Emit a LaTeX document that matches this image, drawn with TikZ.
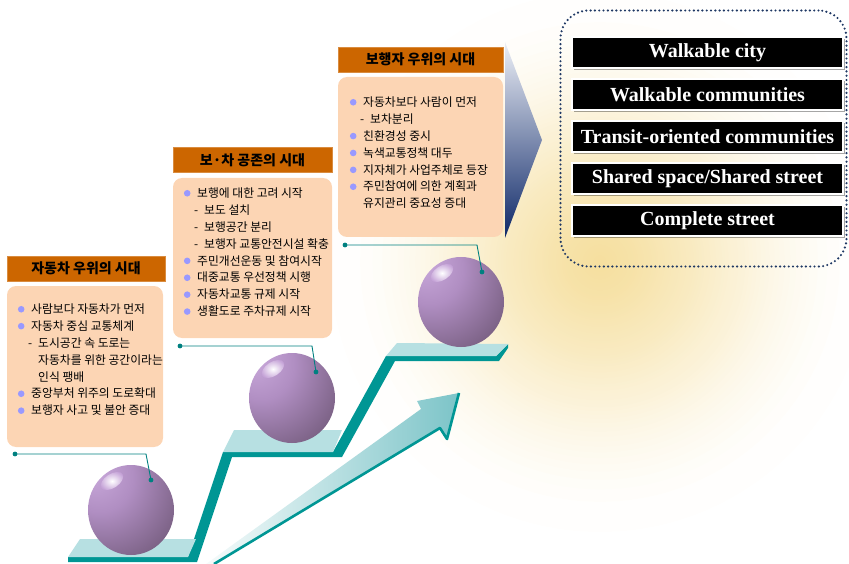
\documentclass[tikz,border=0pt]{standalone}
\usepackage{fontspec}
\setmainfont{Liberation Serif}
\newfontfamily\kr{Noto Sans CJK KR}
\usetikzlibrary{shapes.geometric,shadows,calc}

\definecolor{titlebar}{RGB}{204,102,0}
\definecolor{peach}{RGB}{252,213,180}
\definecolor{bulletc}{RGB}{153,153,255}
\definecolor{stairteal}{RGB}{0,150,148}
\definecolor{platlight}{RGB}{183,224,226}
\definecolor{navydot}{RGB}{31,56,100}
\definecolor{glowc}{RGB}{243,214,132}
\definecolor{chevtop}{RGB}{236,239,246}
\definecolor{chevbot}{RGB}{14,40,104}
\definecolor{arrowlt}{RGB}{246,251,251}
\definecolor{arrowdk}{RGB}{124,196,200}
\definecolor{calloutc}{RGB}{0,128,128}
\definecolor{ballA}{RGB}{204,172,222}
\definecolor{ballB}{RGB}{176,142,194}
\definecolor{ballC}{RGB}{112,88,120}
\definecolor{ballD}{RGB}{52,40,56}
\definecolor{hilite}{RGB}{198,164,216}

% purple sphere lit from the upper left
\pgfdeclareradialshading{sphere}{\pgfpoint{-24bp}{24bp}}{color(0bp)=(ballA); color(20bp)=(ballB); color(48bp)=(ballC); color(72bp)=(ballD); color(90bp)=(ballD)}

% list bullet and sub-item dash
\newcommand\bl{\makebox[13.3pt][l]{\tikz[baseline=-4.2pt]\fill[bulletc](3.3pt,0pt) circle (3.3pt);}}
\newcommand\dsh{\hspace*{10.3pt}\makebox[10pt][l]{-}}
\newcommand\ind{\hspace*{20.3pt}}

\begin{document}
\begin{tikzpicture}[x=1pt,y=-1pt,
  titlebox/.style={fill=titlebar, draw=titlebar!75!white, line width=0.6pt, inner sep=0,
    minimum height=25pt, font=\kr\bfseries\fontsize{14}{16}\selectfont, text=black},
  bodybox/.style={fill=peach, rounded corners=9pt, inner sep=0},
  listtext/.style={anchor=north west, inner sep=0, align=left,
    font=\kr\fontsize{11.8}{16.9}\selectfont},
  goalbox/.style={fill=black, draw=white, line width=2pt, minimum width=271pt,
    minimum height=31pt, inner sep=0, text=white, font=\bfseries\fontsize{20}{22}\selectfont,
    drop shadow={shadow xshift=2pt, shadow yshift=-2pt, fill=black, opacity=0.35}},
  ballnode/.style={ellipse, minimum width=86pt, minimum height=90pt, inner sep=0, shading=sphere},
  callout/.style={calloutc, line width=0.9pt},
  dot/.style={fill=calloutc}]

\useasboundingbox (0,0) rectangle (849,564);

% background glow: stacked translucent discs, sparse towards the rim
\begin{scope}
  \clip (0,0) rectangle (849,564);
  \foreach \k in {0,...,79}
    \fill[glowc, opacity=0.02] (600,262) circle ({270*(1-sqrt(\k/80))});
\end{scope}

% chevron pointing to the goals
\shade[top color=chevtop, bottom color=chevbot] (505,42) -- (542,140) -- (505,238) -- cycle;

% staircase: front faces and risers
\fill[stairteal] (68,557) -- (188,557) -- (223,452) -- (333,452) -- (386,356) -- (496,356) -- (508,344)
  -- (508,348) -- (499,361) -- (395,361) -- (342,457) -- (232,457) -- (197,562) -- (68,562) -- cycle;
% staircase: treads
\fill[platlight] (68,557) -- (80,539) -- (196,539) -- (188,557) -- cycle;
\fill[platlight] (223,452) -- (234,430) -- (342,430) -- (333,452) -- cycle;
\fill[platlight] (386,356) -- (397,343) -- (508,344) -- (496,356) -- cycle;

% rising arrow
\shade[left color=arrowlt, right color=arrowdk]
  (206,564) -- (421,409) -- (417,401) -- (459,393) -- (447,439) -- (440,428) -- (214,564) -- cycle;
\draw[stairteal, line width=2.6pt, line join=round] (214,564) -- (440,428) -- (447,439) -- (459,393);

% spheres
\node[ballnode] (ball1) at (131,510) {};
\node[ballnode] (ball2) at (292,398) {};
\node[ballnode] (ball3) at (461,302) {};
\foreach \b in {ball1,ball2,ball3}{
  \begin{scope}[shift={($(\b.center)+(-19,-29)$)}, rotate=33]
    \shade[inner color=white, outer color=hilite] (0,0) ellipse [x radius=12.5, y radius=7];
  \end{scope}
}

% callout leaders
\coordinate (k1a) at (15,454);  \coordinate (k1b) at (146,454); \coordinate (k1c) at (151,480);
\coordinate (k2a) at (180,346); \coordinate (k2b) at (312,346); \coordinate (k2c) at (316,372);
\coordinate (k3a) at (345,245); \coordinate (k3b) at (477,245); \coordinate (k3c) at (482,272);
\draw[callout] (k1a) -- (k1b) -- (k1c);
\draw[callout] (k2a) -- (k2b) -- (k2c);
\draw[callout] (k3a) -- (k3b) -- (k3c);
\foreach \p in {k1a,k1c,k2a,k2c,k3a,k3c} \fill[dot] (\p) circle (2.4);

% era 1
\node[titlebox, minimum width=158pt] (h1) at (86,268.5) {자동차 우위의 시대};
\node[bodybox, minimum width=156pt, minimum height=161pt] (b1) at (85,366.5) {};
\node[listtext] (t1) at (17.7,303.5) {\bl 사람보다 자동차가 먼저\\
  \bl 자동차 중심 교통체계\\
  \dsh 도시공간 속 도로는\\
  \ind 자동차를 위한 공간이라는\\
  \ind 인식 팽배\\
  \bl 중앙부처 위주의 도로확대\\
  \bl 보행자 사고 및 불안 증대};

% era 2
\node[titlebox, minimum width=159pt] (h2) at (252.5,160) {보·차 공존의 시대};
\node[bodybox, minimum width=159pt, minimum height=160pt] (b2) at (252.5,258) {};
\node[listtext] (t2) at (183.7,187.5) {\bl 보행에 대한 고려 시작\\
  \dsh 보도 설치\\
  \dsh 보행공간 분리\\
  \dsh 보행자 교통안전시설 확충\\
  \bl 주민개선운동 및 참여시작\\
  \bl 대중교통 우선정책 시행\\
  \bl 자동차교통 규제 시작\\
  \bl 생활도로 주차규제 시작};

% era 3
\node[titlebox, minimum width=165pt] (h3) at (420.5,59.5) {보행자 우위의 시대};
\node[bodybox, minimum width=165pt, minimum height=160pt] (b3) at (420.5,157) {};
\node[listtext] (t3) at (349.7,96.5) {\bl 자동차보다 사람이 먼저\\
  \dsh 보차분리\\
  \bl 친환경성 중시\\
  \bl 녹색교통정책 대두\\
  \bl 지자체가 사업주체로 등장\\
  \bl 주민참여에 의한 계획과\\
  \hspace*{13.3pt}유지관리 중요성 증대};

% goals panel
\node[draw=navydot, line width=2.4pt, dash pattern=on 0pt off 4.3pt, line cap=round,
  rounded corners=28pt, minimum width=286pt, minimum height=256pt, inner sep=0]
  (panel) at (703.5,138.5) {};
\node[goalbox] (g1) at (707.5,52.5) {Walkable city};
\node[goalbox] (g2) at (707.5,94.5) {Walkable communities};
\node[goalbox] (g3) at (707.5,137) {Transit-oriented communities};
\node[goalbox] (g4) at (707.5,179) {Shared space/Shared street};
\node[goalbox] (g5) at (707.5,221) {Complete street};
\end{tikzpicture}
\end{document}
